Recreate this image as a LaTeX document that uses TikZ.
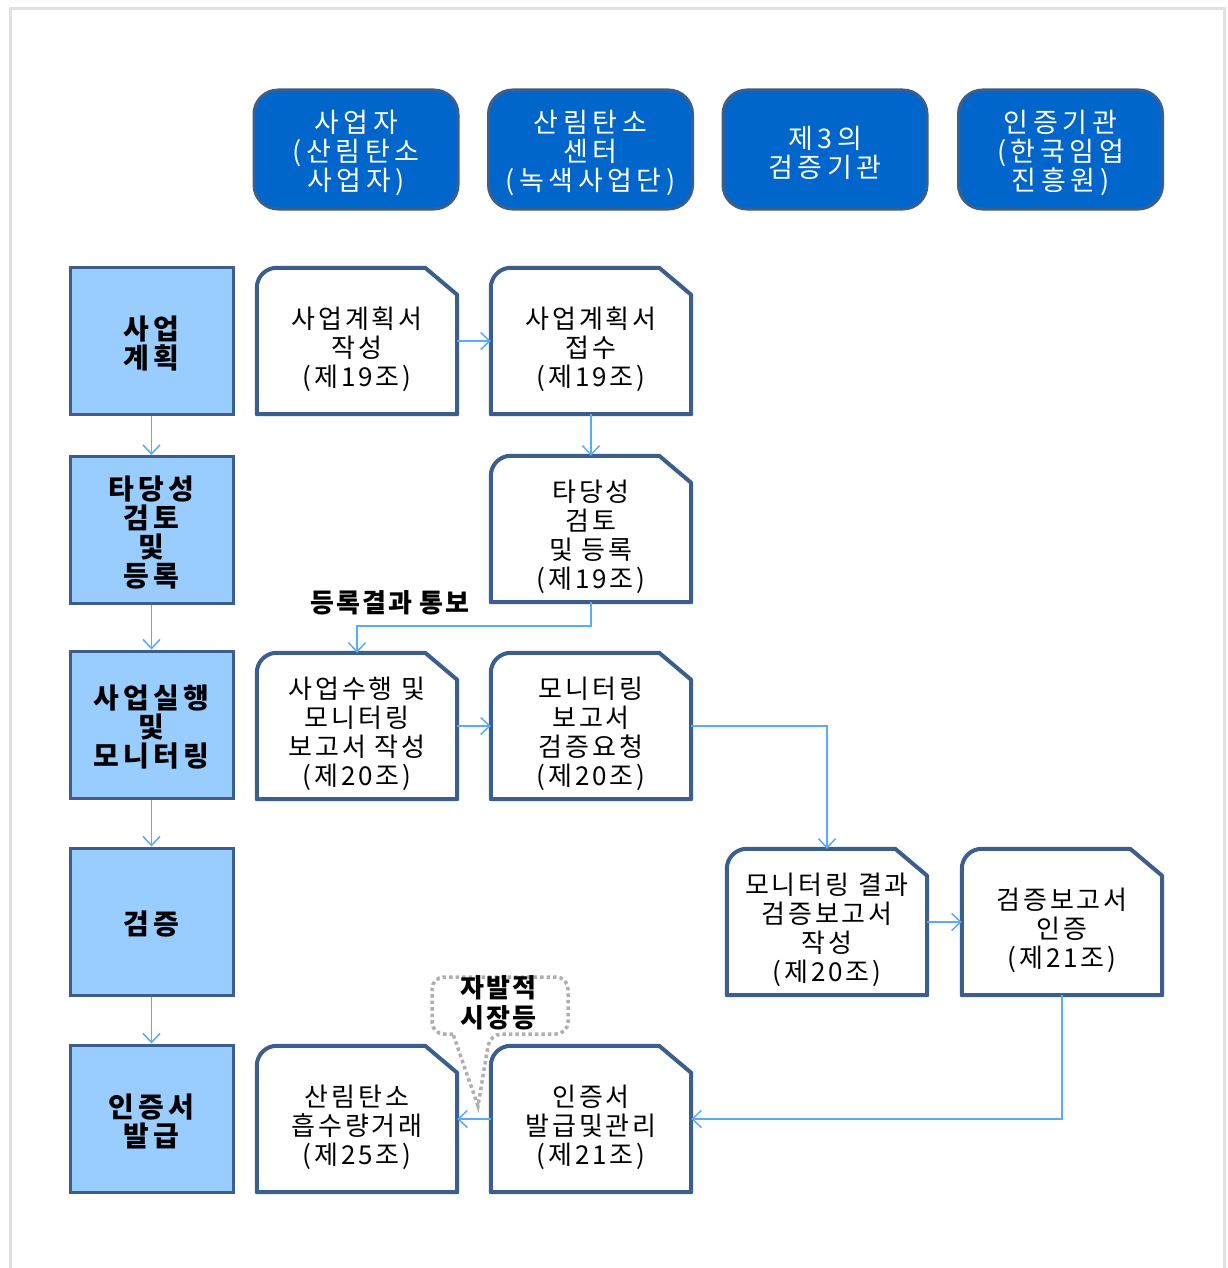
\documentclass[tikz,border=0pt]{standalone}
\usepackage{fontspec}
\setmainfont{Noto Sans CJK KR}
\usetikzlibrary{arrows.meta}
\definecolor{frame}{RGB}{225,225,225}
\definecolor{edge}{RGB}{59,94,140}
\definecolor{hdrfill}{RGB}{0,102,204}
\definecolor{stagefill}{RGB}{153,204,255}
\definecolor{arrowblue}{RGB}{90,170,250}
\definecolor{dotgray}{RGB}{175,175,175}
\tikzset{
  hdr/.style={draw=edge, line width=3pt, fill=hdrfill, rounded corners=24pt,
    minimum width=204pt, minimum height=119pt, inner sep=0pt},
  hdrtext/.style={inner sep=0pt, align=center, text=white,
    font=\fontsize{27pt}{29pt}\selectfont\addfontfeatures{LetterSpace=17}},
  stage/.style={draw=edge, line width=3pt, fill=stagefill,
    minimum width=163pt, minimum height=147pt, inner sep=0pt},
  stagetext/.style={inner sep=0pt, align=center,
    font=\fontsize{28pt}{29pt}\selectfont\bfseries\addfontfeatures{LetterSpace=16}},
  docnode/.style={minimum width=200pt, minimum height=146pt, inner sep=0pt},
  docline/.style={draw=edge, line width=4pt, fill=white, line join=round},
  doctext/.style={align=center, inner sep=0pt,
    font=\fontsize{26pt}{29pt}\selectfont\addfontfeatures{LetterSpace=11}},
  arr/.style={draw=arrowblue, line width=1.5pt, -{Straight Barb[length=9pt,width=17pt,line width=1.5pt]}},
  note/.style={inner sep=0pt, align=center,
    font=\fontsize{26pt}{30pt}\selectfont\bfseries\addfontfeatures{LetterSpace=8}},
  calloutline/.style={draw=dotgray, line width=3.5pt, dash pattern=on 3.5pt off 3pt}
}
\newcommand\docbox[4]{%
  \node[docnode] (#1) at (#2,#3) {};
  \draw[docline] (#1.south west) [rounded corners=20pt] -- (#1.north west) [sharp corners]
    -- ([xshift=-32pt]#1.north east) -- ([yshift=-27pt]#1.north east) -- (#1.south east) -- cycle;
  \node[doctext] at ([yshift=-8pt]#1.center) {#4};
}
\newcommand\hdrbox[4]{%
  \node[hdr] (#1) at (#2,#3) {};
  \node[hdrtext] at ([yshift=-3pt]#1.center) {#4};
}
\newcommand\stagebox[4]{%
  \node[stage] (#1) at (#2,#3) {};
  \node[stagetext] at ([yshift=-3pt]#1.center) {#4};
}
\begin{document}
\begin{tikzpicture}[x=1pt,y=-1pt]
\useasboundingbox (0,0) rectangle (1227,1268);
\draw[frame, line width=3pt] (10,1268) -- (10,9) -- (1224,9) -- (1224,1268);

% headers
\hdrbox{h1}{356}{149.5}{사업자\\(산림탄소\\사업자)}
\hdrbox{h2}{590.5}{149.5}{산림탄소\\센터\\(녹색사업단)}
\hdrbox{h3}{825}{149.5}{제3의\\검증기관}
\hdrbox{h4}{1060.5}{149.5}{인증기관\\(한국임업\\진흥원)}

% stages
\stagebox{s1}{151.5}{340.5}{사업\\계획}
\stagebox{s2}{151.5}{530}{타당성\\검토\\및\\등록}
\stagebox{s3}{151.5}{724.5}{사업실행\\및\\모니터링}
\stagebox{s4}{151.5}{921.5}{검증}
\stagebox{s5}{151.5}{1118.5}{인증서\\발급}

% documents
\docbox{a1}{357}{341}{사업계획서\\작성\\(제19조)}
\docbox{b1}{591}{341}{사업계획서\\접수\\(제19조)}
\docbox{b2}{591}{529}{타당성\\검토\\및 등록\\(제19조)}
\docbox{a3}{357}{726}{사업수행 및\\모니터링\\보고서 작성\\(제20조)}
\docbox{b3}{591}{726}{모니터링\\보고서\\검증요청\\(제20조)}
\docbox{c4}{827}{922}{모니터링 결과\\검증보고서\\작성\\(제20조)}
\docbox{d4}{1062}{922}{검증보고서\\인증\\(제21조)}
\docbox{a5}{357}{1119}{산림탄소\\흡수량거래\\(제25조)}
\docbox{b5}{591}{1119}{인증서\\발급및관리\\(제21조)}

% stage chain
\draw[arr] (s1) -- (s2);
\draw[arr] (s2) -- (s3);
\draw[arr] (s3) -- (s4);
\draw[arr] (s4) -- (s5);

% flow
\draw[arr] (a1.east) -- (b1.west);
\draw[arr] (b1.south) -- (b2.north);
\draw[arr] (b2.south) -- ++(0,24) -| (a3.north);
\draw[arr] (a3.east) -- (b3.west);
\draw[arr] (b3.east) -| (c4.north);
\draw[arr] (c4.east) -- (d4.west);
\draw[arr] (d4.south) |- (b5.east);
\draw[arr] (b5.west) -- (a5.east);

\node[note] (n1) at (390,603) {등록결과 통보};

% callout
\draw[calloutline, rounded corners=12pt] (453,1034) -- (432,1034) -- (432,977) -- (568,977) -- (568,1034) -- (490,1034) [sharp corners] -- (478,1106) -- cycle;
\node[note] (n2) at (498,1003) {자발적\\시장등};
\end{tikzpicture}
\end{document}
